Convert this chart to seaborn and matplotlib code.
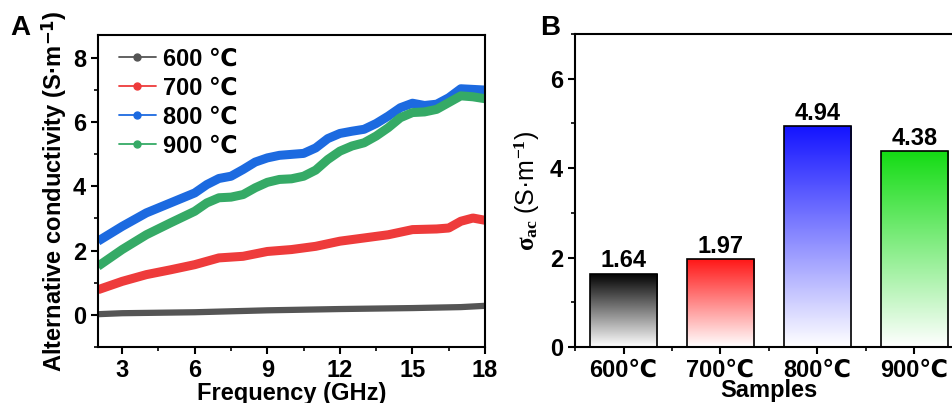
import numpy as np
import pandas as pd
import matplotlib
matplotlib.use("Agg")
import matplotlib.pyplot as plt
from matplotlib.colors import LinearSegmentedColormap
from matplotlib.lines import Line2D
from matplotlib.ticker import MultipleLocator
import seaborn as sns

# ---- Panel A: AC conductivity vs frequency ----
freq_a = [2, 3, 4, 5, 6, 6.5, 7, 7.5, 8, 8.5, 9, 9.5, 10, 10.5, 11, 11.5, 12,
          12.5, 13, 13.5, 14, 14.5, 15, 15.5, 16, 16.5, 17, 17.5, 18]
sigma_800 = [2.29, 2.75, 3.17, 3.48, 3.79, 4.05, 4.24, 4.31, 4.52, 4.75, 4.88,
             4.96, 4.99, 5.02, 5.19, 5.48, 5.64, 5.71, 5.77, 5.95, 6.18, 6.44,
             6.58, 6.51, 6.55, 6.75, 7.03, 7.01, 6.99]
sigma_900 = [1.51, 2.03, 2.49, 2.86, 3.22, 3.48, 3.64, 3.66, 3.74, 3.95, 4.12,
             4.21, 4.23, 4.31, 4.50, 4.83, 5.09, 5.25, 5.35, 5.56, 5.82, 6.13,
             6.29, 6.31, 6.39, 6.60, 6.81, 6.78, 6.72]
freq_b = [2, 3, 4, 5, 6, 7, 8, 9, 10, 11, 12, 13, 14, 15, 16, 16.5, 17, 17.5, 18]
sigma_700 = [0.78, 1.04, 1.25, 1.40, 1.56, 1.77, 1.82, 1.97, 2.03, 2.13, 2.29,
             2.39, 2.49, 2.65, 2.67, 2.70, 2.91, 3.01, 2.94]
freq_c = [2, 3, 6, 9, 12, 15, 17, 18]
sigma_600 = [0.02, 0.05, 0.08, 0.14, 0.18, 0.21, 0.24, 0.28]

series_names = ["600 ℃", "700 ℃", "800 ℃", "900 ℃"]
line_colors = ["#555555", "#ee3b3b", "#1c6ae0", "#35aa66"]

# ---- Panel B: average conductivity per sample ----
samples = ["600℃", "700℃", "800℃", "900℃"]
sigma_ac = [1.64, 1.97, 4.94, 4.38]
bar_colors = ["#000000", "#ff1414", "#1414ff", "#14dc14"]

df_a = pd.concat([
    pd.DataFrame({"Frequency": freq_c, "sigma": sigma_600, "Sample": series_names[0]}),
    pd.DataFrame({"Frequency": freq_b, "sigma": sigma_700, "Sample": series_names[1]}),
    pd.DataFrame({"Frequency": freq_a, "sigma": sigma_800, "Sample": series_names[2]}),
    pd.DataFrame({"Frequency": freq_a, "sigma": sigma_900, "Sample": series_names[3]}),
], ignore_index=True)
df_b = pd.DataFrame({"Sample": samples, "sigma": sigma_ac})

sns.set_theme(style="ticks")
plt.rcParams["font.family"] = ["Liberation Sans", "DejaVu Sans"]
plt.rcParams["font.weight"] = "bold"
for key in ["text.color", "axes.labelcolor", "xtick.color", "ytick.color",
            "axes.edgecolor"]:
    plt.rcParams[key] = "black"
plt.rcParams["axes.linewidth"] = 1.5
plt.rcParams["xtick.major.width"] = 1.5
plt.rcParams["ytick.major.width"] = 1.5
plt.rcParams["xtick.minor.width"] = 1.2
plt.rcParams["ytick.minor.width"] = 1.2
plt.rcParams["xtick.major.size"] = 5
plt.rcParams["ytick.major.size"] = 5
plt.rcParams["xtick.minor.size"] = 3
plt.rcParams["ytick.minor.size"] = 3
plt.rcParams["mathtext.fontset"] = "custom"
plt.rcParams["mathtext.rm"] = "Liberation Serif"
plt.rcParams["mathtext.it"] = "Liberation Serif"

fig = plt.figure(figsize=(9.52, 4.03), dpi=100)
ax1 = fig.add_axes([0.1029, 0.139, 0.4066, 0.774])
ax2 = fig.add_axes([0.604, 0.139, 0.4075, 0.7766])

# Panel A curves
sns.lineplot(data=df_a, x="Frequency", y="sigma", hue="Sample",
             palette=dict(zip(series_names, line_colors)), linewidth=6.5,
             legend=False, ax=ax1, solid_capstyle="butt")
ax1.lines[0].set_linewidth(4.5)
ax1.set_xlim(2, 18)
ax1.set_ylim(-1, 8.7)
ax1.xaxis.set_major_locator(MultipleLocator(3))
ax1.xaxis.set_minor_locator(MultipleLocator(1.5))
ax1.yaxis.set_major_locator(MultipleLocator(2))
ax1.yaxis.set_minor_locator(MultipleLocator(1))
ax1.tick_params(axis="both", which="both", direction="out", labelsize=17,
                top=False, right=False)
ax1.set_xlabel("Frequency (GHz)", fontsize=17, fontweight="bold", labelpad=0)
ax1.set_ylabel("Alternative conductivity (S·m$^{\\mathbf{-1}}$)", fontsize=17,
               fontweight="bold", labelpad=2)
for lab in ax1.get_xticklabels() + ax1.get_yticklabels():
    lab.set_fontweight("bold")
for s in ax1.spines.values():
    s.set_visible(True)
    s.set_linewidth(1.5)
    s.set_color("black")

handles = [Line2D([0], [0], color=c, lw=1.3, marker="o", markersize=5,
                  markeredgecolor=c, markerfacecolor=c) for c in line_colors]
leg = ax1.legend(handles, series_names, loc="upper left", frameon=False,
                 prop={"size": 17, "weight": "bold"}, handlelength=1.55,
                 handletextpad=0.3, labelspacing=0.25,
                 bbox_to_anchor=(0.03, 0.99), borderaxespad=0)

# Panel B gradient bars
sns.barplot(data=df_b, x="Sample", y="sigma", hue="Sample",
            palette=dict(zip(samples, bar_colors)), width=0.7,
            edgecolor="black", linewidth=1.2, legend=False, ax=ax2)
ax2.set_xlim(-0.5, 3.5)
ax2.set_ylim(0, 7)
for patch, col in zip(ax2.patches, bar_colors):
    x0, y0 = patch.get_x(), patch.get_y()
    w, h = patch.get_width(), patch.get_height()
    cmap = LinearSegmentedColormap.from_list("g", ["#ffffff", col])
    grad = np.linspace(0, 1, 256).reshape(-1, 1)
    im = ax2.imshow(grad, cmap=cmap, aspect="auto", origin="lower",
                    extent=[x0, x0 + w, y0, y0 + h], zorder=patch.get_zorder(),
                    interpolation="bicubic")
    im.set_clip_path(patch)
    patch.set_facecolor("none")
    patch.set_zorder(patch.get_zorder() + 0.5)
    ax2.text(x0 + w / 2, y0 + h + 0.03, f"{h:.2f}", ha="center", va="bottom",
             fontsize=17, fontweight="bold")
ax2.set_xlim(-0.5, 3.5)
ax2.set_ylim(0, 7)
ax2.yaxis.set_major_locator(MultipleLocator(2))
ax2.yaxis.set_minor_locator(MultipleLocator(1))
ax2.set_xticks(range(len(samples)))
ax2.set_xticks(np.arange(-0.5, 3.6, 1.0), minor=True)
ax2.set_xticklabels(samples)
ax2.tick_params(axis="both", which="both", direction="out", labelsize=17,
                top=False, right=False)
ax2.tick_params(axis="x", which="minor", length=3)
for lab in ax2.get_xticklabels() + ax2.get_yticklabels():
    lab.set_fontweight("bold")
ax2.set_xlabel("Samples", fontsize=17, fontweight="bold", labelpad=-2)
ax2.set_ylabel("$\\sigma_{ac}$ (S·m$^{-1}$)", fontsize=18, labelpad=6)
for s in ax2.spines.values():
    s.set_visible(True)
    s.set_linewidth(1.5)
    s.set_color("black")

fig.text(0.011, 0.93, "A", fontsize=20, fontweight="bold", ha="left", va="center")
fig.text(0.567, 0.93, "B", fontsize=20, fontweight="bold", ha="left", va="center")

fig.savefig("out.png", dpi=100)
